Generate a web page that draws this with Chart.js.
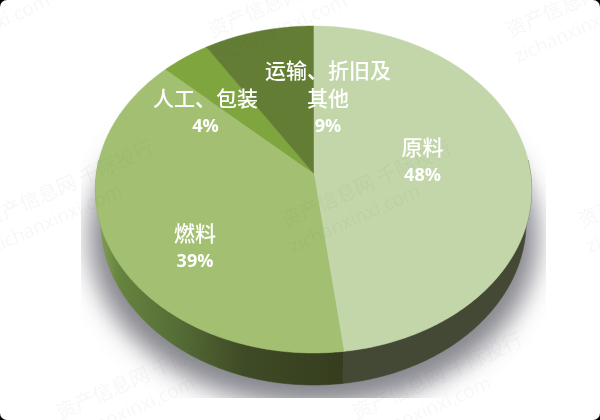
<!DOCTYPE html>
<html lang="zh">
<head>
<meta charset="utf-8">
<style>
html,body{margin:0;padding:0;background:#000;width:600px;height:420px;overflow:hidden}
#wrap{width:600px;height:420px;background:#fff;border-radius:7px;overflow:hidden}
canvas{display:block}
</style>
<script src="https://cdn.jsdelivr.net/npm/chart.js@4"></script>
</head>
<body>
<div id="wrap"><canvas id="c" width="600" height="420"></canvas></div>
<script>
// Data
const categories = ['原料', '燃料', '人工、包装', '运输、折旧及其他'];
const shares = [48, 39, 4, 9];
const labelLines = [['原料'], ['燃料'], ['人工、包装'], ['运输、折旧及', '其他']];
const sliceColors = ['#c3d6a9', '#a3c072', '#7fa53f', '#637d35'];
const watermarkLine1 = '资产信息网 千际投行';
const watermarkLine2 = 'zichanxinxi.com';

// Styling / layout (not data)
const cx = 313.5, cy = 173, k = 217, a = 161.8, c0 = -0.101, depth = 32, baseScale = 0.975;
const labelAnchors = [[422.5, 147], [195, 233], [205.5, 98], [328, 70]];
const lineGap = 28;
const wmAnchors = [[-85,38],[212,38],[510,38],[-13,228],[285,228],[582,228],[60,420],[356,420]];

// Perspective projection of the flat pie angle on to the tilted disc
function project(angle, dy, sx) {
  const th = angle + Math.PI / 2, u = Math.sin(th), v = -Math.cos(th), w = 1 + c0 * v;
  return [cx + (sx || 1) * k * u / w, cy + a * v / w + (dy || 0)];
}
function traceEdge(ctx, s, e, dy, first, sx) {
  const n = Math.max(2, Math.ceil(Math.abs(e - s) * 90));
  for (let i = 0; i <= n; i++) {
    const p = project(s + (e - s) * i / n, dy, sx);
    if (i === 0 && first) ctx.moveTo(p[0], p[1]); else ctx.lineTo(p[0], p[1]);
  }
}
function drawShadow(ctx) {
  ctx.save();
  ctx.beginPath(); ctx.rect(81, 100, 465, 298); ctx.clip();
  ctx.shadowColor = 'rgba(105,105,115,0.8)';
  ctx.shadowBlur = 24;
  ctx.shadowOffsetX = 1000;
  ctx.fillStyle = '#000';
  ctx.beginPath();
  ctx.ellipse(313.5 - 1000, 238, 224, 168, 0, 0, Math.PI * 2);
  ctx.fill();
  ctx.restore();
}
function drawWall(ctx, s, e, fill) {
  ctx.beginPath();
  traceEdge(ctx, s, e, 0, true);
  traceEdge(ctx, e, s, depth, false, baseScale);
  ctx.closePath();
  ctx.fillStyle = fill; ctx.fill();
  ctx.strokeStyle = fill; ctx.lineWidth = 0.6; ctx.stroke();
}
const pie3d = {
  id: 'pie3d',
  beforeDatasetsDraw(chart) {
    const ctx = chart.ctx, arcs = chart.getDatasetMeta(0).data;
    drawShadow(ctx);
    const g = ctx.createLinearGradient(95, 0, 342, 0);
    g.addColorStop(0, '#86a558');
    g.addColorStop(0.1, '#66833f');
    g.addColorStop(0.34, '#556c36');
    g.addColorStop(0.6, '#3f4b26');
    g.addColorStop(1, '#353d1e');
    const edge = 0.08; // wall only shows on the front of the disc
    drawWall(ctx, arcs[1].startAngle, Math.min(arcs[1].endAngle, Math.PI + edge), g);
    drawWall(ctx, Math.max(arcs[0].startAngle, -edge), arcs[0].endAngle, '#444936');
    arcs.forEach((el, i) => {
      el.draw = function (cc) {
        cc.beginPath();
        cc.moveTo(cx, cy);
        traceEdge(cc, this.startAngle, this.endAngle, 0, false);
        cc.closePath();
        cc.fillStyle = sliceColors[i];
        cc.fill();
        cc.strokeStyle = sliceColors[i];
        cc.lineWidth = 0.5;
        cc.stroke();
      };
    });
  },
  afterDatasetsDraw(chart) {
    const ctx = chart.ctx;
    ctx.save();
    ctx.fillStyle = 'rgba(60,60,60,0.045)';
    ctx.textBaseline = 'alphabetic';
    ctx.textAlign = 'left';
    wmAnchors.forEach(p => {
      ctx.save();
      ctx.translate(p[0], p[1]);
      ctx.rotate(-24 * Math.PI / 180);
      ctx.font = '20px "Noto Sans CJK SC"';
      ctx.fillText(watermarkLine1, 0, 0);
      ctx.font = '19px "Open Sans"';
      ctx.fillText(watermarkLine2, -3, 26);
      ctx.restore();
    });
    ctx.restore();

    ctx.save();
    ctx.fillStyle = '#fff';
    ctx.textAlign = 'center';
    ctx.textBaseline = 'middle';
    labelLines.forEach((lines, i) => {
      const p = labelAnchors[i];
      ctx.font = '500 21px "Noto Sans CJK SC"';
      lines.forEach((t, j) => ctx.fillText(t, p[0], p[1] + j * lineGap));
      ctx.font = 'bold 18px "Open Sans"';
      ctx.fillText(shares[i] + '%', p[0], p[1] + lines.length * lineGap + 1);
    });
    ctx.restore();
  }
};

new Chart(document.getElementById('c'), {
  type: 'pie',
  data: { labels: categories, datasets: [{ data: shares, backgroundColor: sliceColors, borderWidth: 0 }] },
  options: {
    responsive: false,
    devicePixelRatio: 1,
    animation: false,
    rotation: 0,
    layout: { padding: 0 },
    plugins: { legend: { display: false }, tooltip: { enabled: false } }
  },
  plugins: [pie3d]
});
</script>
</body>
</html>
